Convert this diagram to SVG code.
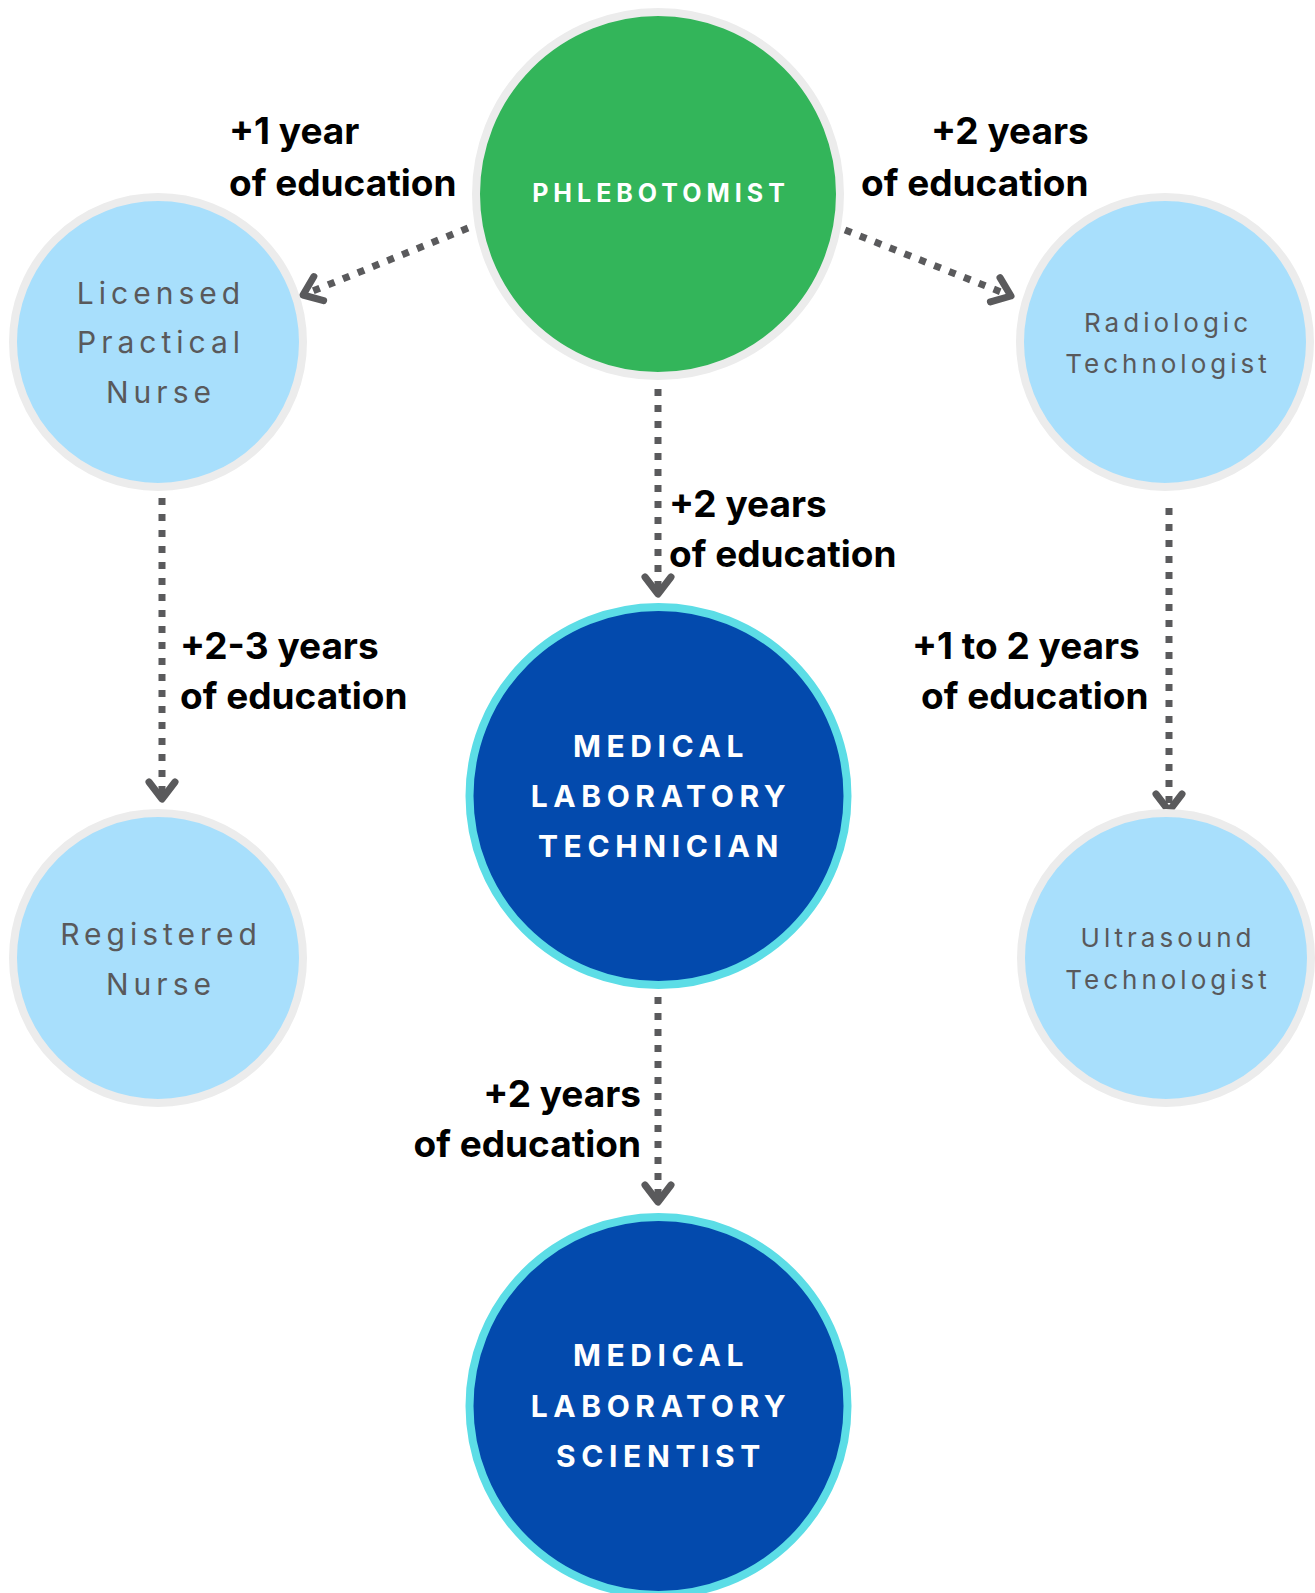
<svg xmlns="http://www.w3.org/2000/svg" width="1315" height="1593" viewBox="0 0 1315 1593">
<defs>
<style>
.bg{fill:#ffffff}
.light{fill:#a8dffc;stroke:#ececec;stroke-width:8}
.green{fill:#33b55a;stroke:#ececec;stroke-width:8}
.dark{fill:#034aad;stroke:#5cdde6;stroke-width:8}
.lt{font-family:Inter,"Liberation Sans",sans-serif;font-weight:400;fill:#59595b;text-anchor:middle}
.lt30{font-size:30px;letter-spacing:5px}
.lt26{font-size:26px;letter-spacing:4px}
.cap{font-family:Inter,"Liberation Sans",sans-serif;font-weight:700;fill:#ffffff;text-anchor:middle}
.cap30{font-size:30px;letter-spacing:5.6px}
.cap26{font-size:25px;letter-spacing:5px}
.lbl{font-family:Inter,"Liberation Sans",sans-serif;font-weight:700;font-size:37px;fill:#000000}
.conn{fill:none;stroke:#5a5a5c;stroke-width:7;stroke-dasharray:7 9}
</style>
<marker id="chev" markerUnits="userSpaceOnUse" viewBox="-30 -20 40 40" refX="0" refY="0" markerWidth="40" markerHeight="40" orient="auto" overflow="visible">
<path d="M -17 -13 L 0 0 L -17 13" fill="none" stroke="#5a5a5c" stroke-width="7" stroke-linecap="round" stroke-linejoin="round"/>
</marker>
</defs>
<rect class="bg" x="0" y="0" width="1315" height="1593"/>

<g id="connectors">
<line class="conn" x1="468" y1="228" x2="303" y2="295" marker-end="url(#chev)"/>
<line class="conn" x1="845" y1="230" x2="1011" y2="296" marker-end="url(#chev)"/>
<line class="conn" x1="658" y1="389" x2="658" y2="594" marker-end="url(#chev)"/>
<line class="conn" x1="162" y1="498" x2="162" y2="799" marker-end="url(#chev)"/>
<line class="conn" x1="1169" y1="508" x2="1169" y2="811" marker-end="url(#chev)"/>
<line class="conn" x1="658" y1="997" x2="658" y2="1202" marker-end="url(#chev)"/>
</g>

<g id="node-phlebotomist">
<circle class="green" cx="658" cy="194" r="182"/>
<text class="cap cap26" x="661" y="202">PHLEBOTOMIST</text>
</g>

<g id="node-lpn">
<circle class="light" cx="158" cy="342" r="145"/>
<text class="lt lt30" x="161" y="304">Licensed</text>
<text class="lt lt30" x="161" y="353">Practical</text>
<text class="lt lt30" x="161" y="403">Nurse</text>
</g>

<g id="node-radiologic">
<circle class="light" cx="1165" cy="342" r="145"/>
<text class="lt lt26" x="1168" y="332">Radiologic</text>
<text class="lt lt26" x="1168" y="373">Technologist</text>
</g>

<g id="node-mlt">
<circle class="dark" cx="658.5" cy="796" r="189"/>
<text class="cap cap30" x="661" y="757">MEDICAL</text>
<text class="cap cap30" x="661" y="807">LABORATORY</text>
<text class="cap cap30" x="661" y="857">TECHNICIAN</text>
</g>

<g id="node-rn">
<circle class="light" cx="158" cy="958" r="145"/>
<text class="lt lt30" x="161" y="945">Registered</text>
<text class="lt lt30" x="161" y="995">Nurse</text>
</g>

<g id="node-ultrasound">
<circle class="light" cx="1166" cy="958" r="145"/>
<text class="lt lt26" x="1168" y="947">Ultrasound</text>
<text class="lt lt26" x="1168" y="989">Technologist</text>
</g>

<g id="node-mls">
<circle class="dark" cx="658.5" cy="1406" r="189"/>
<text class="cap cap30" x="661" y="1366">MEDICAL</text>
<text class="cap cap30" x="661" y="1417">LABORATORY</text>
<text class="cap cap30" x="661" y="1467">SCIENTIST</text>
</g>

<g id="labels">
<text class="lbl" x="229" y="144">+1 year</text>
<text class="lbl" x="229" y="196">of education</text>
<text class="lbl" x="931" y="144">+2 years</text>
<text class="lbl" x="861" y="196">of education</text>
<text class="lbl" x="669" y="517">+2 years</text>
<text class="lbl" x="669" y="567">of education</text>
<text class="lbl" x="180" y="659">+2-3 years</text>
<text class="lbl" x="180" y="709">of education</text>
<text class="lbl" x="912" y="659">+1 to 2 years</text>
<text class="lbl" x="921" y="709">of education</text>
<text class="lbl" x="641" y="1107" text-anchor="end">+2 years</text>
<text class="lbl" x="641" y="1157" text-anchor="end">of education</text>
</g>
</svg>
